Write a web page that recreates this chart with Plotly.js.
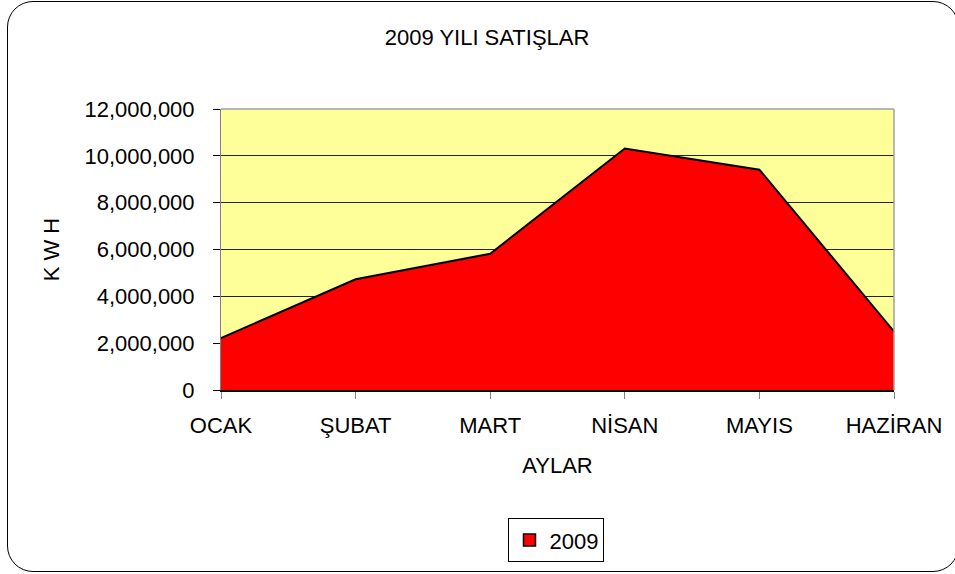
<!DOCTYPE html>
<html>
<head>
<meta charset="utf-8">
<script src="https://cdn.plot.ly/plotly-3.0.1.min.js"></script>
<style>
  html, body { margin: 0; padding: 0; background: #fff; overflow: hidden; }
  #wrap { position: relative; width: 955px; height: 574px; overflow: hidden; }
  #chart { position: absolute; left: 0; top: 0; width: 955px; height: 574px; }
  #frame { position: absolute; left: 7px; top: 1px; width: 950px; height: 569px;
           border: 1.5px solid #000; border-radius: 26px; pointer-events: none; }
</style>
</head>
<body>
<div id="wrap">
  <div id="chart"></div>
  <div id="frame"></div>
</div>
<script>
const months = ["OCAK", "ŞUBAT", "MART", "NİSAN", "MAYIS", "HAZİRAN"];
const sales2009 = [2220000, 4730000, 5820000, 10310000, 9410000, 2500000];
const yTicks = [0, 2000000, 4000000, 6000000, 8000000, 10000000, 12000000];
const yTickText = ["0", "2,000,000", "4,000,000", "6,000,000", "8,000,000", "10,000,000", "12,000,000"];
const seriesName = "2009";

const font = "'Liberation Sans', Arial, sans-serif";
const fs = 22;

const area = {
  type: "scatter",
  mode: "lines",
  x: months,
  y: sales2009,
  name: seriesName,
  fill: "tozeroy",
  fillcolor: "#FF0000",
  line: { color: "#000000", width: 2 },
  showlegend: false
};

// legend-only entry with a square swatch
const legendSwatch = {
  type: "bar",
  x: [null],
  y: [null],
  name: seriesName,
  marker: { color: "#FF0000", line: { color: "#000", width: 1.5 } },
  showlegend: true
};

const layout = {
  width: 955,
  height: 574,
  margin: { l: 221, r: 61, t: 109, b: 182 },
  paper_bgcolor: "rgba(0,0,0,0)",
  plot_bgcolor: "#FFFF99",
  font: { family: font, color: "#000", size: fs },
  title: {
    text: "2009 YILI SATIŞLAR",
    font: { family: font, size: fs, color: "#000" },
    x: 0.51, xanchor: "center", y: 0.935, yanchor: "middle"
  },
  xaxis: {
    type: "category",
    range: [0, months.length - 1],
    showgrid: false,
    showline: true, linecolor: "#000", linewidth: 2,
    ticks: "outside", ticklen: 7, tickcolor: "#808080", tickwidth: 1,
    ticklabelstandoff: 8,
    tickfont: { family: font, size: fs, color: "#000" },
    title: { text: "AYLAR", font: { family: font, size: fs, color: "#000" }, standoff: 20 },
    automargin: true,
    zeroline: false
  },
  yaxis: {
    range: [0, 12000000],
    tickvals: yTicks,
    ticktext: yTickText,
    showgrid: true, gridcolor: "#222", gridwidth: 1,
    showline: true, linecolor: "#808080", linewidth: 1,
    ticks: "outside", ticklen: 7, tickcolor: "#000", tickwidth: 1,
    ticklabelstandoff: 14,
    tickfont: { family: font, size: fs, color: "#000" },
    title: { text: "K W H", font: { family: font, size: fs, color: "#000" }, standoff: 18 },
    automargin: true,
    zeroline: false
  },
  shapes: [
    { type: "line", xref: "paper", yref: "paper", x0: 0, x1: 1, y0: 1, y1: 1, line: { color: "#A0A0A0", width: 1.5 } },
    { type: "line", xref: "paper", yref: "paper", x0: 1, x1: 1, y0: 0, y1: 1, line: { color: "#A0A0A0", width: 1.5 } }
  ],
  showlegend: true,
  legend: {
    x: 0.4985, xanchor: "center",
    y: -0.456, yanchor: "top",
    orientation: "h",
    bordercolor: "#000", borderwidth: 1,
    bgcolor: "#fff",
    font: { family: font, size: fs, color: "#000" },
    itemwidth: 30
  }
};

Plotly.newPlot("chart", [area, legendSwatch], layout, { displayModeBar: false, staticPlot: true });
</script>
</body>
</html>
